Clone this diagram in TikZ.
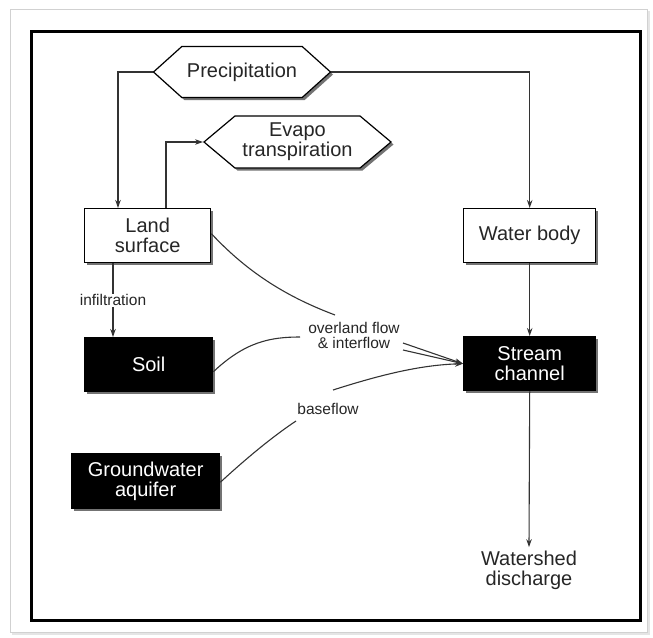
\documentclass[tikz,border=0pt]{standalone}
\usepackage{fontspec}
\setmainfont{Liberation Sans}
\usetikzlibrary{shapes.symbols,arrows.meta}
\begin{document}
\begin{tikzpicture}[x=1pt,y=-1pt,
  every node/.style={font=\fontsize{20}{23}\selectfont, text=black!85, align=center},
  whitebox/.style={draw=black, line width=1.4pt, fill=white, inner sep=0pt, anchor=north west},
  blackbox/.style={draw=black, line width=1.4pt, fill=black, text=white, inner sep=0pt, anchor=north west},
  hexa/.style={signal, signal to=west and east, draw=black, line width=1.2pt, fill=white, inner sep=0pt},
  conn/.style={draw=black!80, line width=1.1pt},
  arr/.style={conn, -{Stealth[length=8pt,width=5.5pt]}},
  small/.style={font=\fontsize{15.5}{18}\selectfont},
  shadow/.style={fill=black!55}
]
\useasboundingbox (0,0) rectangle (653,637);
% outer faint frame and black frame
\draw[black!18, line width=1pt] (10,9) rectangle (647,632);
\draw[black!10, line width=2pt] (12,634) -- (649,634) -- (649,11);
\draw[black, line width=3pt] (31,31) rectangle (640,620);

% hexagons (shadows)
\node[hexa, signal pointer angle=84, minimum width=177pt, minimum height=51pt, draw=none, fill=black!55] at (244.5,74.5) {};
\node[hexa, signal pointer angle=80, minimum width=187pt, minimum height=52pt, draw=none, fill=black!55] at (300,144.5) {};
\node[hexa, signal pointer angle=84, minimum width=177pt, minimum height=51pt] (P) at (242,72) {Precipitation};
\node[hexa, signal pointer angle=80, minimum width=187pt, minimum height=52pt] (E) at (297.5,142) {Evapo\\[-3pt]transpiration};

% box shadows
\fill[shadow] (87,211) rectangle (213,265);
\fill[shadow] (466,211) rectangle (598,265);
\fill[shadow] (87,340) rectangle (215,394);
\fill[shadow] (466,339) rectangle (598,393);
\fill[shadow] (74,456) rectangle (222,511);

% boxes
\node[whitebox, minimum width=126pt, minimum height=54pt] (land) at (84,208) {Land\\[-3pt]surface};
\node[whitebox, minimum width=132pt, minimum height=54pt] (water) at (463,208) {Water body};
\node[blackbox, minimum width=128pt, minimum height=54pt] (soil) at (84,337) {Soil};
\node[blackbox, minimum width=132pt, minimum height=54pt] (stream) at (463,336) {Stream\\[-3pt]channel};
\node[blackbox, minimum width=148pt, minimum height=55pt] (gw) at (71,453) {Groundwater\\[-3pt]aquifer};
\node (dis) at (529,570) {Watershed\\[-3pt]discharge};

% labels
\node[small] (ov) at (354,335) {overland flow\\[-3pt]\& interflow};
\node[small] (bf) at (328,409) {baseflow};

% free ends of the curved connectors at the labels
\coordinate (ovA) at (335,315);
\coordinate (ovB) at (300,337);
\coordinate (ovC) at (403,343);
\coordinate (ovD) at (403,350);
\coordinate (bfA) at (296,421);
\coordinate (bfB) at (333,390);

% straight connectors
\draw[arr] (P.west) -| ([xshift=34pt]land.north west);
\draw[arr] (P.east) -| (water.north);
\draw[arr] ([xshift=82pt]land.north west) |- (E.west);
\draw[arr] ([xshift=29pt]land.south west) -- node[small, fill=white, inner sep=1pt] (inf) {infiltration} ([xshift=29pt]soil.north west);
\draw[arr] (water.south) -- (stream.north);
\draw[arr] (stream.south) -- (dis.north);

% curved connectors
\draw[conn] ([yshift=2pt]land.east) .. controls (250,275) and (290,298) .. (ovA);
\draw[arr] (ovC) -- (stream.west);
\draw[conn] ([yshift=-7pt]soil.east) .. controls (245,342) and (270,337) .. (ovB);
\draw[arr] (ovD) -- (stream.west);
\draw[conn] ([yshift=-1pt]gw.east) .. controls (250,455) and (275,435) .. (bfA);
\draw[arr] (bfB) .. controls (380,375) and (420,365) .. (stream.west);
\end{tikzpicture}
\end{document}
